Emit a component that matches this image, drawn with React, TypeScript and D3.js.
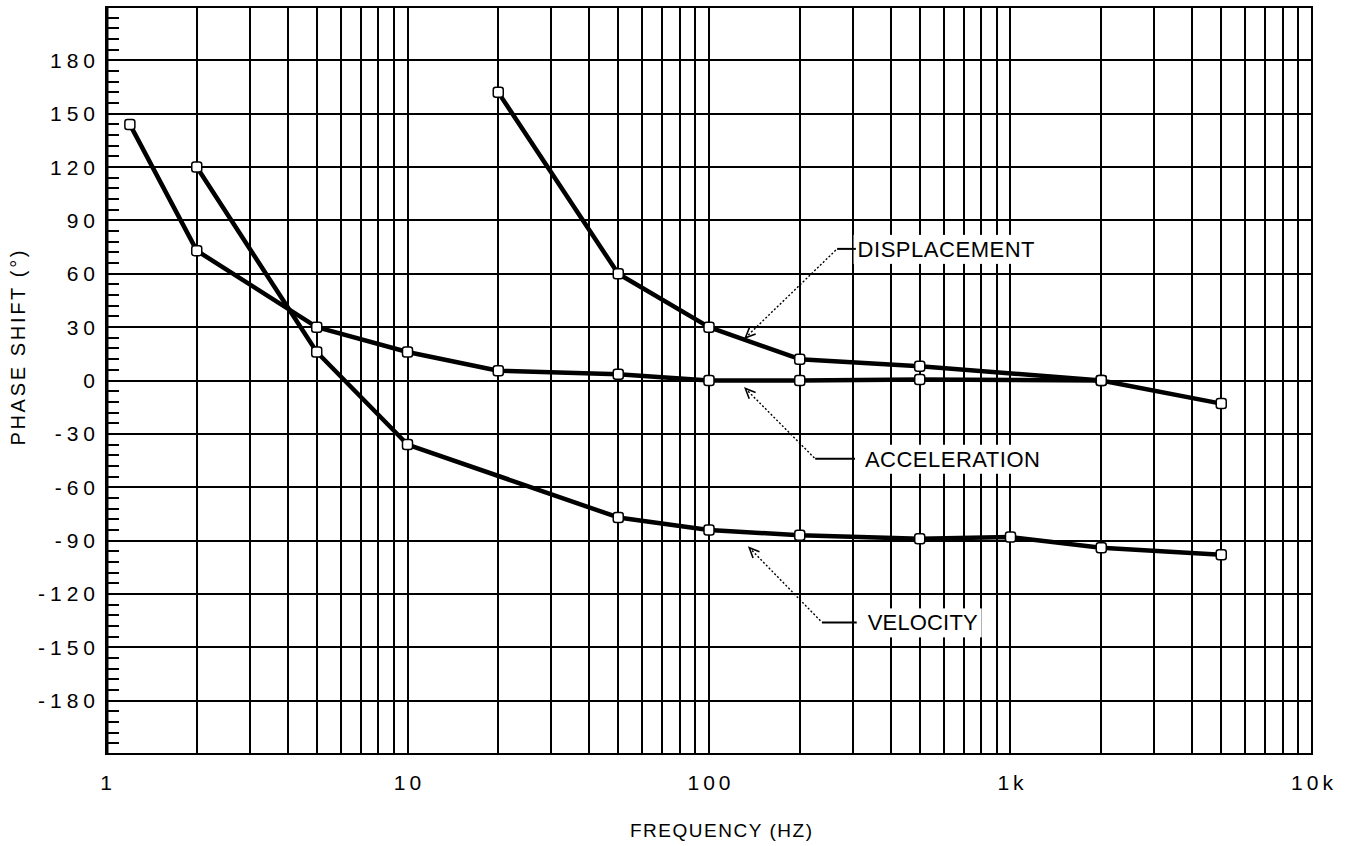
import React, { useEffect, useRef } from "react";
import * as d3 from "d3";

// phase shift vs frequency
const accelFreq = [1.2, 2, 5, 10, 20, 50, 100, 200, 500, 2000, 5000];
const accelPhase = [144, 73, 30, 16, 5.5, 3.5, 0, 0, 0.5, 0, -13];
const veloFreq = [2, 5, 10, 50, 100, 200, 500, 1000, 2000, 5000];
const veloPhase = [120, 16, -36, -77, -84, -87, -89, -88, -94, -98];
const dispFreq = [20, 50, 100, 200, 500, 2000];
const dispPhase = [162, 60, 30, 12, 8, 0];

const xTickValues = [1, 10, 100, 1000, 10000];
const xTickLabels = ["1", "10", "100", "1k", "10k"];
const yTickValues = [180, 150, 120, 90, 60, 30, 0, -30, -60, -90, -120, -150, -180];

// callout labels: arrow tip, elbow and text start in data units
const labelNames = ["DISPLACEMENT", "ACCELERATION", "VELOCITY"];
const labelTipFreq = [132, 132, 136];
const labelTipPhase = [24, -4.5, -94];
const labelElbowFreq = [266, 225, 237];
const labelElbowPhase = [74, -44, -136];
const labelLineEndFreq = [307, 305, 309];
const labelTextFreq = [311, 329, 336];
const labelTextWidth = [177, 175, 110];

export default function App() {
  const ref = useRef<SVGSVGElement>(null);

  useEffect(() => {
    const width = 1347,
      height = 846;
    const margin = { top: 7, right: 35, bottom: 92, left: 106 };

    const svg = d3.select(ref.current);
    svg.selectAll("*").remove();

    const x = d3
      .scaleLog()
      .domain([1, 10000])
      .range([margin.left, width - margin.right]);
    const y = d3
      .scaleLinear()
      .domain([-210, 210])
      .range([height - margin.bottom, margin.top]);

    const font = "'Liberation Sans', Arial, sans-serif";

    // vertical grid (every 1..9 per decade)
    svg
      .append("g")
      .selectAll("line")
      .data(x.ticks().filter((d) => d > 1 && d < 10000))
      .join("line")
      .attr("x1", (d) => Math.round(x(d)))
      .attr("x2", (d) => Math.round(x(d)))
      .attr("y1", y(210))
      .attr("y2", y(-210))
      .attr("stroke", "#000")
      .attr("stroke-width", 2)
      .attr("shape-rendering", "crispEdges");

    // horizontal grid every 30 deg
    svg
      .append("g")
      .selectAll("line")
      .data(yTickValues)
      .join("line")
      .attr("x1", x(1))
      .attr("x2", x(10000))
      .attr("y1", (d) => Math.round(y(d)))
      .attr("y2", (d) => Math.round(y(d)))
      .attr("stroke", "#000")
      .attr("stroke-width", 2)
      .attr("shape-rendering", "crispEdges");

    // minor ticks on the left edge every 6 deg
    svg
      .append("g")
      .selectAll("line")
      .data(d3.range(-204, 210, 6).filter((d) => d % 30 !== 0))
      .join("line")
      .attr("x1", x(1))
      .attr("x2", x(1) + 13)
      .attr("y1", (d) => Math.round(y(d)))
      .attr("y2", (d) => Math.round(y(d)))
      .attr("stroke", "#000")
      .attr("stroke-width", 2)
      .attr("shape-rendering", "crispEdges");

    // frame
    svg
      .append("rect")
      .attr("x", x(1))
      .attr("y", y(210))
      .attr("width", x(10000) - x(1))
      .attr("height", y(-210) - y(210))
      .attr("fill", "none")
      .attr("stroke", "#000")
      .attr("stroke-width", 2)
      .attr("shape-rendering", "crispEdges");
    svg
      .append("line")
      .attr("x1", x(1) + 1.5)
      .attr("x2", x(1) + 1.5)
      .attr("y1", y(210))
      .attr("y2", y(-210))
      .attr("stroke", "#000")
      .attr("stroke-width", 2);

    // y tick labels
    svg
      .append("g")
      .selectAll("text")
      .data(yTickValues)
      .join("text")
      .attr("x", x(1) - 6)
      .attr("y", (d) => y(d) + 7.5)
      .attr("text-anchor", "end")
      .attr("font-family", font)
      .attr("font-size", 21)
      .attr("letter-spacing", 5)
      .text((d) => String(d));

    // x tick labels
    svg
      .append("g")
      .selectAll("text")
      .data(xTickValues)
      .join("text")
      .attr("x", (d) => x(d) + 2)
      .attr("y", 790)
      .attr("text-anchor", "middle")
      .attr("font-family", font)
      .attr("font-size", 21)
      .attr("letter-spacing", 4)
      .text((d, i) => xTickLabels[i]);

    // axis titles
    svg
      .append("text")
      .attr("transform", "translate(25,348) rotate(-90)")
      .attr("text-anchor", "middle")
      .attr("font-family", font)
      .attr("font-size", 20)
      .attr("textLength", 195)
      .attr("lengthAdjust", "spacing")
      .text("PHASE SHIFT (°)");
    svg
      .append("text")
      .attr("x", 721)
      .attr("y", 837)
      .attr("text-anchor", "middle")
      .attr("font-family", font)
      .attr("font-size", 19)
      .attr("textLength", 182)
      .attr("lengthAdjust", "spacing")
      .text("FREQUENCY (HZ)");

    // callouts
    labelNames.forEach((name, i) => {
      const tx = x(labelTipFreq[i]),
        ty = y(labelTipPhase[i]);
      const ex = x(labelElbowFreq[i]),
        ey = y(labelElbowPhase[i]);
      const lx = x(labelLineEndFreq[i]);
      const textX = x(labelTextFreq[i]);

      svg
        .append("rect")
        .attr("x", textX - 4)
        .attr("y", ey - 14)
        .attr("width", labelTextWidth[i] + 8)
        .attr("height", 29)
        .attr("fill", "#fff");

      svg
        .append("line")
        .attr("x1", tx)
        .attr("y1", ty)
        .attr("x2", ex)
        .attr("y2", ey)
        .attr("stroke", "#000")
        .attr("stroke-width", 1.4)
        .attr("stroke-dasharray", "2 2");
      svg
        .append("line")
        .attr("x1", ex)
        .attr("y1", ey)
        .attr("x2", lx)
        .attr("y2", ey)
        .attr("stroke", "#000")
        .attr("stroke-width", 2);

      // arrow head
      const ang = Math.atan2(ey - ty, ex - tx);
      const len = 11,
        spread = 0.42;
      const head = [
        [tx + len * Math.cos(ang + spread), ty + len * Math.sin(ang + spread)],
        [tx, ty],
        [tx + len * Math.cos(ang - spread), ty + len * Math.sin(ang - spread)],
      ];
      svg
        .append("path")
        .attr("d", d3.line()(head as [number, number][]))
        .attr("fill", "none")
        .attr("stroke", "#000")
        .attr("stroke-width", 1.6);

      svg
        .append("text")
        .attr("x", textX)
        .attr("y", ey + 8)
        .attr("font-family", font)
        .attr("font-size", 22)
        .attr("textLength", labelTextWidth[i])
        .attr("lengthAdjust", "spacing")
        .text(name);
    });

    // curves
    const series = [
      { f: accelFreq, p: accelPhase },
      { f: veloFreq, p: veloPhase },
      { f: dispFreq, p: dispPhase },
    ];
    const line = d3
      .line<[number, number]>()
      .x((d) => x(d[0]))
      .y((d) => y(d[1]));

    series.forEach((s) => {
      const pts = s.f.map((f, i) => [f, s.p[i]] as [number, number]);
      svg
        .append("path")
        .attr("d", line(pts))
        .attr("fill", "none")
        .attr("stroke", "#000")
        .attr("stroke-width", 4.5)
        .attr("stroke-linejoin", "round");
      svg
        .append("g")
        .selectAll("rect")
        .data(pts)
        .join("rect")
        .attr("x", (d) => x(d[0]) - 5)
        .attr("y", (d) => y(d[1]) - 5)
        .attr("width", 10)
        .attr("height", 10)
        .attr("rx", 2.5)
        .attr("fill", "#fff")
        .attr("stroke", "#000")
        .attr("stroke-width", 1.5);
    });
  }, []);

  return (
    <svg
      ref={ref}
      width={1347}
      height={846}
      style={{ position: "absolute", left: 0, top: 0, background: "#fff" }}
    ></svg>
  );
}
